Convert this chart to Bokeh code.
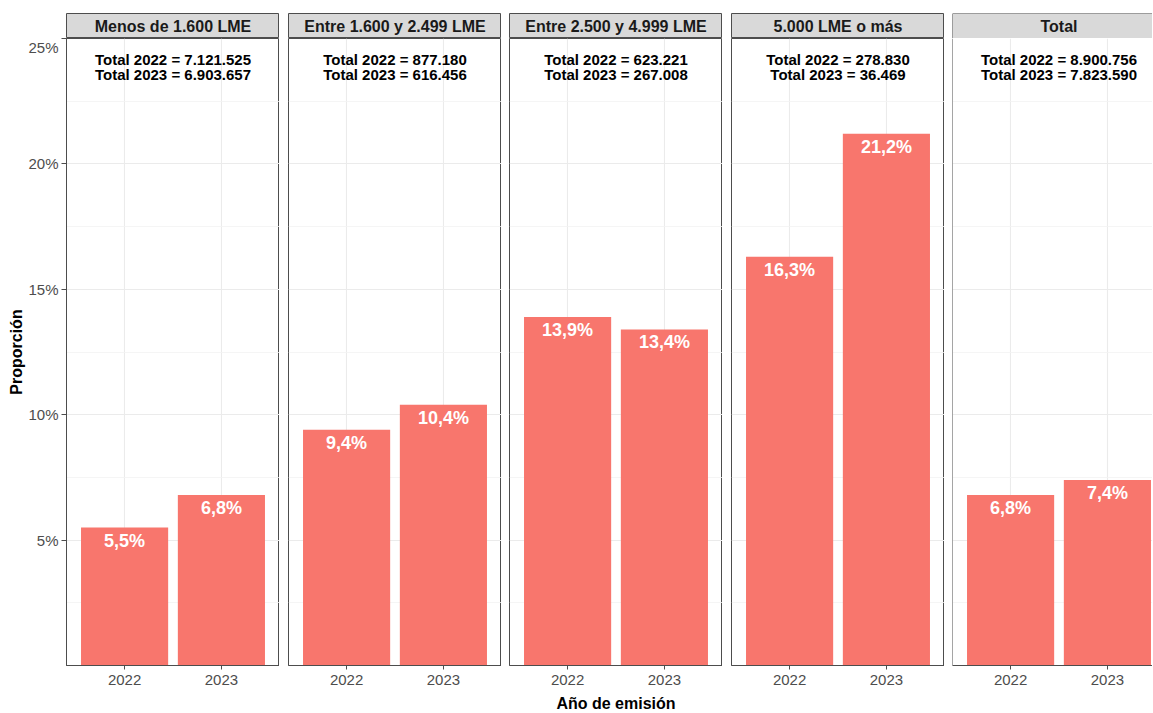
from bokeh.plotting import figure
from bokeh.models import Range1d, FixedTicker, ColumnDataSource, Span, Label
from bokeh.layouts import gridplot
from bokeh.embed import file_html
from bokeh.resources import INLINE
from bokeh.core.properties import value

# ---- data ----
panels = ["Menos de 1.600 LME", "Entre 1.600 y 2.499 LME", "Entre 2.500 y 4.999 LME",
          "5.000 LME o más", "Total"]
years = ["2022", "2023"]
prop_2022 = [5.5, 9.4, 13.9, 16.3, 6.8]
prop_2023 = [6.8, 10.4, 13.4, 21.2, 7.4]
total_2022 = [7121525, 877180, 623221, 278830, 8900756]
total_2023 = [6903657, 616456, 267008, 36469, 7823590]
y_ticks = [5, 10, 15, 20, 25]
y_tick_labels = ["5%", "10%", "15%", "20%", "25%"]
y_minor = [2.5, 7.5, 12.5, 17.5, 22.5]

# ---- style ----
FONT = "Liberation Sans"
BAR = "#F8766D"
BORDER = "#4D4D4D"
FRAME_W = 213
FRAME_H = 627
STRIP_H = 25
UNIT = FRAME_W / 2.2
LEFT0 = 66
GAPS = [LEFT0, 9, 8, 9, 8]
TOTAL_W = 1152
X0 = 0.4

xpos = [i + 1 for i in range(len(years))]


def fmt_pct(v):
    return f"{v:.1f}".replace(".", ",") + "%"


def fmt_int(n):
    return f"{n:,}".replace(",", ".")


strips = []
plots = []
used = 0
for i, name in enumerate(panels):
    left = GAPS[i]
    last = i == len(panels) - 1
    fw = TOTAL_W - used - left if last else FRAME_W
    used += left + fw
    xend = X0 + fw / UNIT

    # strip
    s = figure(frame_width=fw, frame_height=STRIP_H, x_range=Range1d(X0, xend),
               y_range=Range1d(0, 1), toolbar_location=None, output_backend="svg",
               min_border_left=left, min_border_right=0, min_border_top=13,
               min_border_bottom=0, x_axis_location=None, y_axis_location=None)
    s.grid.visible = False
    s.background_fill_color = "#D9D9D9"
    s.border_fill_color = "white"
    if last:
        s.outline_line_color = None
        for loc, dim in ((X0, "height"), (0, "width"), (1, "width")):
            s.add_layout(Span(location=loc, dimension=dim, line_color=BORDER, line_width=1))
    else:
        s.outline_line_color = BORDER
        s.outline_line_width = 1
    s.add_layout(Label(x=1.5, y=0.5, text=name, text_font=FONT, text_font_style="bold",
                       text_font_size="16px", text_color="#1A1A1A", text_align="center",
                       text_baseline="middle"))
    strips.append(s)

    # panel
    p = figure(frame_width=fw, frame_height=FRAME_H, x_range=Range1d(X0, xend),
               y_range=Range1d(0, 25), toolbar_location=None, output_backend="svg",
               min_border_left=left, min_border_right=0, min_border_top=0,
               min_border_bottom=0, y_axis_location="left" if i == 0 else None)
    p.border_fill_color = "white"
    p.xgrid.ticker = FixedTicker(ticks=xpos)
    p.ygrid.ticker = FixedTicker(ticks=y_ticks, minor_ticks=y_minor)
    p.grid.grid_line_color = "#EBEBEB"
    p.grid.grid_line_width = 1.1
    p.ygrid.minor_grid_line_color = "#F2F2F2"
    p.ygrid.minor_grid_line_width = 0.8

    if last:
        p.outline_line_color = None
        p.add_layout(Span(location=X0, dimension="height", line_color=BORDER, line_width=1))
    else:
        p.outline_line_color = BORDER
        p.outline_line_width = 1

    xa = p.xaxis[0]
    xa.ticker = FixedTicker(ticks=xpos)
    xa.major_label_overrides = {x: y for x, y in zip(xpos, years)}
    xa.major_tick_out = 4
    xa.major_tick_in = 0
    xa.minor_tick_line_color = None
    xa.axis_line_color = BORDER
    xa.major_tick_line_color = BORDER
    xa.major_label_text_font = FONT
    xa.major_label_text_font_size = "15px"
    xa.major_label_text_color = "#4D4D4D"
    xa.major_label_standoff = 5
    if i == 2:
        xa.axis_label = "Año de emisión"
        xa.axis_label_text_font = FONT
        xa.axis_label_text_font_style = "bold"
        xa.axis_label_text_font_size = "16px"
        xa.axis_label_text_color = "black"
        xa.axis_label_standoff = 7

    if i == 0:
        ya = p.yaxis[0]
        ya.ticker = FixedTicker(ticks=y_ticks)
        ya.major_label_overrides = {t: l for t, l in zip(y_ticks, y_tick_labels)}
        ya.major_tick_out = 5
        ya.major_tick_in = 0
        ya.minor_tick_line_color = None
        ya.axis_line_color = BORDER
        ya.major_tick_line_color = BORDER
        ya.major_label_text_font = FONT
        ya.major_label_text_font_size = "15px"
        ya.major_label_text_color = "#4D4D4D"
        ya.major_label_standoff = 3
        ya.axis_label = "Proporción"
        ya.axis_label_text_font = FONT
        ya.axis_label_text_font_style = "bold"
        ya.axis_label_text_font_size = "16px"
        ya.axis_label_text_color = "black"
        ya.axis_label_standoff = 0

    vals = [prop_2022[i], prop_2023[i]]
    src = ColumnDataSource(dict(x=xpos, top=vals, label=[fmt_pct(v) for v in vals]))
    p.vbar(x="x", top="top", bottom=0, width=0.9, source=src,
           fill_color=BAR, line_color=None)
    p.text(x="x", y="top", text="label", source=src, text_align="center",
           text_baseline="top", y_offset=3, text_font=value(FONT),
           text_font_style="bold", text_font_size="18px", text_color="white")

    tsrc = ColumnDataSource(dict(
        x=[sum(xpos) / len(xpos)], y=[y_ticks[-1]],
        t=[f"Total 2022 = {fmt_int(total_2022[i])}\nTotal 2023 = {fmt_int(total_2023[i])}"]))
    p.text(x="x", y="y", text="t", source=tsrc, text_align="center",
           text_baseline="top", y_offset=12, text_font=value(FONT),
           text_font_style="bold", text_font_size="15px", text_color="black",
           text_line_height=0.92)
    plots.append(p)

grid = gridplot([strips, plots], toolbar_location=None)

open("out.html", "w").write(file_html(grid, INLINE))
